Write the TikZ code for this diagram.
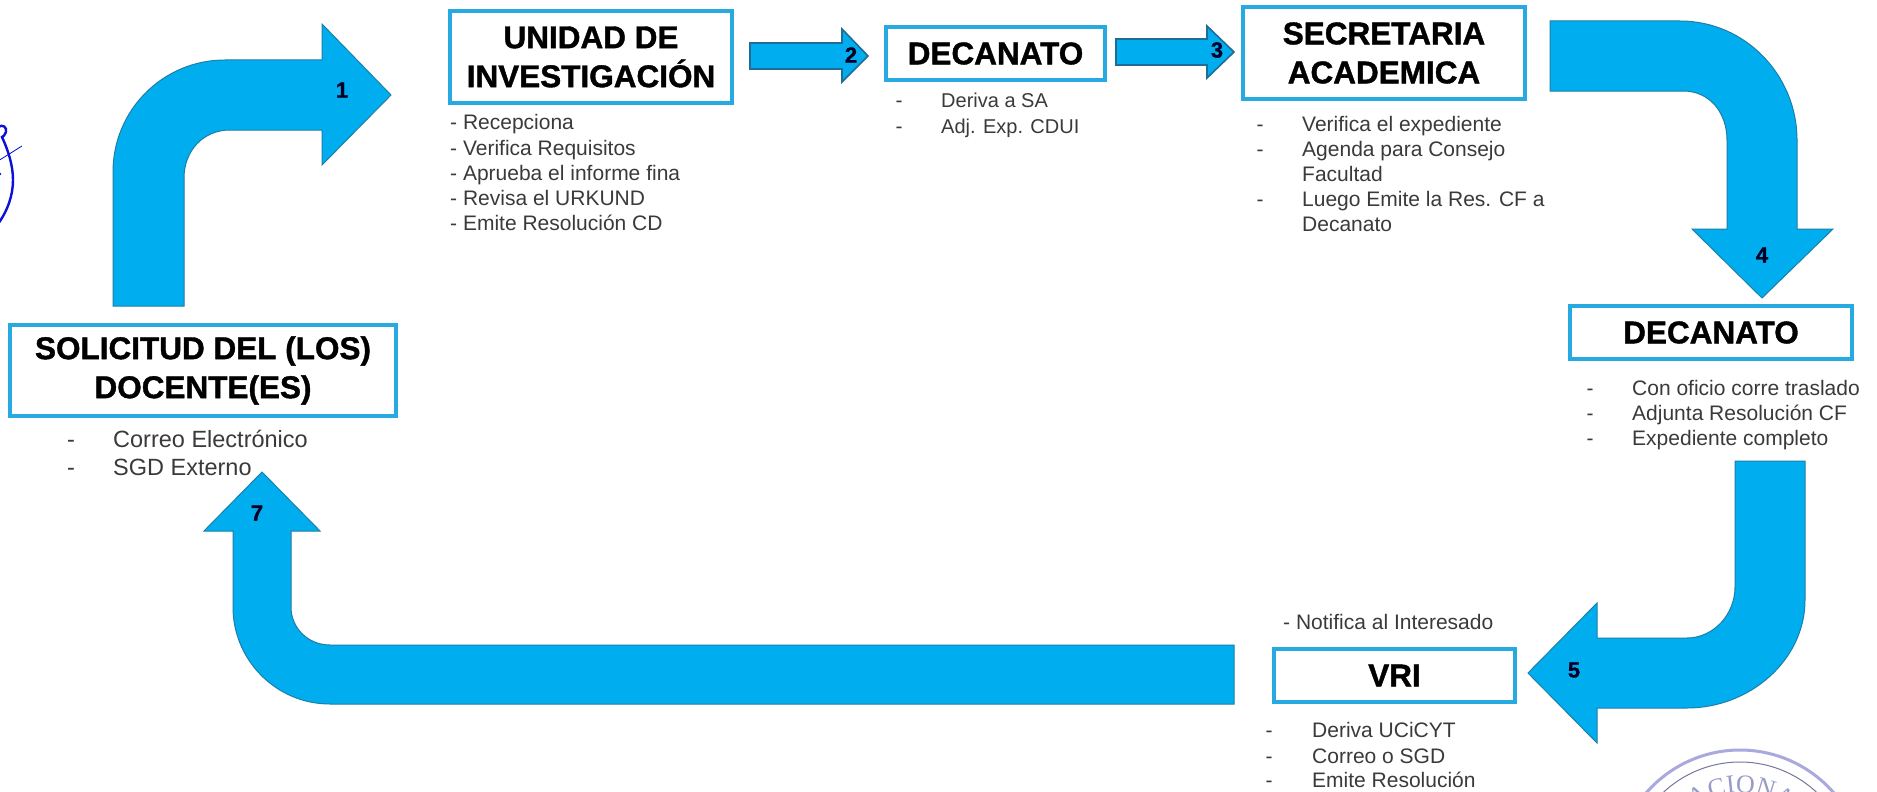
\documentclass[tikz,border=0pt]{standalone}
\usepackage{fontspec}
\setmainfont{Liberation Sans}[BoldFeatures={FakeBold=1.2}]
\newfontfamily\sealfont{Liberation Serif}
\usetikzlibrary{decorations.text}
\definecolor{fillblue}{HTML}{00AEEF}
\definecolor{edgeblue}{HTML}{1B7FA8}
\definecolor{darkedge}{HTML}{1F6C96}
\definecolor{boxblue}{HTML}{27AAE1}
\definecolor{bodygray}{HTML}{3A3A3A}
\definecolor{inkblue}{HTML}{0A10D8}
\definecolor{sealblue}{HTML}{A9A9DE}
\definecolor{sealdark}{HTML}{77779C}
\definecolor{sealtext}{HTML}{9A9AC8}
\newcommand{\bodysize}[1]{\fontsize{#1}{#1}\selectfont}
\tikzset{
  blockarrow/.style={fill=fillblue,draw=edgeblue,line width=1pt,line join=miter},
  slimarrow/.style={fill=fillblue,draw=darkedge,line width=1.6pt,line join=miter},
  headbox/.style={draw=boxblue,line width=4pt,fill=white,inner sep=0pt,align=center,text=black,
    font=\fontsize{31.5}{39}\selectfont\bfseries},
  numlabel/.style={inner sep=0pt,text=black!85!blue,font=\fontsize{22}{22}\selectfont\bfseries},
  bodytext/.style={inner sep=0pt,anchor=base west,text=bodygray,font=\bodysize{21}},
  bodydash/.style={inner sep=0pt,anchor=base,text=bodygray,font=\bodysize{21}},
}
\begin{document}
\begin{tikzpicture}[x=1pt,y=-1pt]
\useasboundingbox (0,0) rectangle (1877,792);
\fill[white] (0,0) rectangle (1877,792);

% block arrows
\draw[blockarrow] (113,306) -- (113,172) .. controls (113,110) and (163,60) .. (225,60) -- (322,60) -- (322,24) -- (391,95) -- (322,165) -- (322,130) -- (230,130) .. controls (203,130) and (184,151) .. (184,178) -- (184,306) -- cycle;
\draw[slimarrow] (750,43) -- (842,43) -- (842,29) -- (868,56) -- (842,82) -- (842,69) -- (750,69) -- cycle;
\draw[slimarrow] (1116,39) -- (1207,39) -- (1207,26) -- (1234,52) -- (1207,78) -- (1207,65) -- (1116,65) -- cycle;
\draw[blockarrow] (1550,21) -- (1680,21) .. controls (1745,21) and (1797,75) .. (1797,140) -- (1797,229) -- (1833,229) -- (1762,298) -- (1692,229) -- (1727,229) -- (1727,140) .. controls (1727,113) and (1710,91) .. (1683,91) -- (1550,91) -- cycle;
\draw[blockarrow] (1735,461) -- (1805,461) -- (1805,600) .. controls (1805,660) and (1750,708) .. (1687,708) -- (1597,708) -- (1597,743) -- (1528,673) -- (1597,603) -- (1597,638) -- (1687,638) .. controls (1713,638) and (1735,615) .. (1735,587) -- cycle;
\draw[blockarrow] (262,472) -- (320,531) -- (291,531) -- (291,607) .. controls (291,628) and (308,645) .. (330,645) -- (1234,645) -- (1234,704) -- (330,704) .. controls (276,704) and (233,660) .. (233,607) -- (233,531) -- (204,531) -- cycle;

% arrow numbers
\node[numlabel] (n1) at (342,90) {1};
\node[numlabel] (n2) at (851,55) {2};
\node[numlabel] (n3) at (1217,50) {3};
\node[numlabel] (n4) at (1762,255) {4};
\node[numlabel] (n5) at (1574,670) {5};
\node[numlabel] (n7) at (257,513) {7};

% heading boxes
\node[headbox,minimum width=386pt,minimum height=91pt] (solicitud) at (203,370.5) {SOLICITUD DEL (LOS)\\DOCENTE(ES)};
\node[headbox,minimum width=282pt,minimum height=92pt] (unidad) at (591,57) {UNIDAD DE\\INVESTIGACIÓN};
\node[headbox,minimum width=219pt,minimum height=53pt] (decanatoa) at (995.5,53.5) {DECANATO};
\node[headbox,minimum width=282pt,minimum height=92pt] (secretaria) at (1384,53) {SECRETARIA\\ACADEMICA};
\node[headbox,minimum width=282pt,minimum height=53pt] (decanatob) at (1711,332.5) {DECANATO};
\node[headbox,minimum width=241pt,minimum height=53pt] (vri) at (1394.5,675.5) {VRI};

% lists
\node[bodydash,font=\bodysize{23.5}] (d1) at (71,447) {-};
\node[bodytext,font=\bodysize{23.5}] (t1) at (113,447) {Correo Electrónico};
\node[bodydash,font=\bodysize{23.5}] (d2) at (71,475) {-};
\node[bodytext,font=\bodysize{23.5}] (t2) at (113,475) {SGD Externo};

\node[bodytext] (u1) at (450,129) {- Recepciona};
\node[bodytext] (u2) at (450,155) {- Verifica Requisitos};
\node[bodytext] (u3) at (450,180) {- Aprueba el informe fina};
\node[bodytext] (u4) at (450,205) {- Revisa el URKUND};
\node[bodytext] (u5) at (450,230) {- Emite Resolución CD};

\node[bodydash] (d3) at (899,107) {-};
\node[bodytext,font=\bodysize{20}] (a1) at (941,107) {Deriva a SA};
\node[bodydash] (d4) at (899,133) {-};
\node[bodytext,font=\bodysize{20}] (a2) at (941,133) {Adj. Exp. CDUI};

\node[bodydash] (d5) at (1260,131) {-};
\node[bodytext] (s1) at (1302,131) {Verifica el expediente};
\node[bodydash] (d6) at (1260,156) {-};
\node[bodytext] (s2) at (1302,156) {Agenda para Consejo};
\node[bodytext] (s3) at (1302,181) {Facultad};
\node[bodydash] (d7) at (1260,206) {-};
\node[bodytext] (s4) at (1302,206) {Luego Emite la Res. CF a};
\node[bodytext] (s5) at (1302,231) {Decanato};

\node[bodydash] (d8) at (1590,395) {-};
\node[bodytext] (b1) at (1632,395) {Con oficio corre traslado};
\node[bodydash] (d9) at (1590,420) {-};
\node[bodytext] (b2) at (1632,420) {Adjunta Resolución CF};
\node[bodydash] (d10) at (1590,445) {-};
\node[bodytext] (b3) at (1632,445) {Expediente completo};

\node[bodytext] (notifica) at (1283,629) {- Notifica al Interesado};
\node[bodydash] (d11) at (1269,737) {-};
\node[bodytext] (v1) at (1312,737) {Deriva UCiCYT};
\node[bodydash] (d12) at (1269,763) {-};
\node[bodytext] (v2) at (1312,763) {Correo o SGD};
\node[bodydash] (d13) at (1269,787) {-};
\node[bodytext] (v3) at (1312,787) {Emite Resolución};

% handwritten signature at the left edge
\draw[inkblue,line width=2.4pt,line cap=round] (-2,127) .. controls (3,124) and (7,127) .. (6,132) .. controls (5,135) and (3,137) .. (2,137) .. controls (8,150) and (13,165) .. (13,180) .. controls (13,195) and (8,210) .. (-2,224);
\draw[inkblue,line width=.8pt] (22,146) -- (-2,161);
\fill[inkblue] (0,174) circle (1.3pt);

% seal at the bottom right
\draw[sealblue,line width=3pt] (1632.6,812) .. controls (1654.7,773.7) and (1695.7,750) .. (1740,750) .. controls (1784.3,750) and (1825.3,773.7) .. (1847.4,812);
\draw[sealdark,line width=1pt] (1643,818) .. controls (1663,783.4) and (1700,762) .. (1740,762) .. controls (1780,762) and (1817,783.4) .. (1837,818);
\path[decorate,decoration={text along path,text align=center,
  text={|\fontsize{26}{26}\selectfont\sealfont\color{sealtext}|NACIONAL}}]
  (1669.9,833.5) .. controls (1684.4,808.5) and (1711.1,793) .. (1740,793) .. controls (1768.9,793) and (1795.6,808.5) .. (1810.1,833.5);
\end{tikzpicture}
\end{document}
